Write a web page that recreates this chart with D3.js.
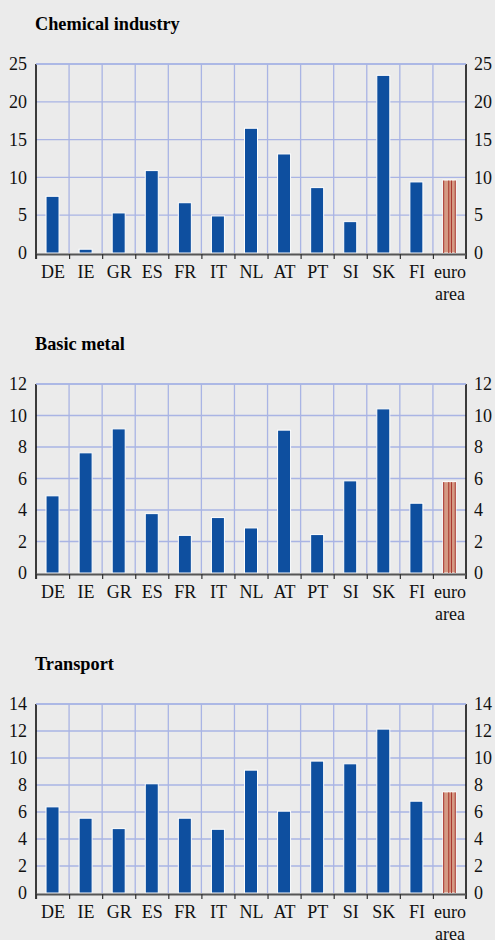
<!DOCTYPE html>
<html><head><meta charset="utf-8">
<script src="https://cdn.jsdelivr.net/npm/d3@7"></script>
<style>
html,body{margin:0;padding:0;background:#ebebeb;}
svg{display:block;}
svg text{font-family:"Liberation Serif","Times New Roman","DejaVu Serif",serif;}
</style></head>
<body>
<svg id="c" width="495" height="940"></svg>
<script>
const categories = ["DE","IE","GR","ES","FR","IT","NL","AT","PT","SI","SK","FI","euro area"];
const titles = ["Chemical industry","Basic metal","Transport"];
const chemical = [7.5,0.5,5.3,10.9,6.65,4.9,16.5,13.1,8.65,4.15,23.5,9.4,9.65];
const basicMetal = [4.9,7.63,9.15,3.77,2.39,3.52,2.86,9.07,2.44,5.85,10.42,4.43,5.8];
const transport = [6.38,5.54,4.77,8.09,5.54,4.72,9.1,6.06,9.77,9.57,12.14,6.8,7.49];
const chemTicks = [0,5,10,15,20,25];
const metalTicks = [0,2,4,6,8,10,12];
const transTicks = [0,2,4,6,8,10,12,14];

const panels = [
  {title: titles[0], values: chemical, ticks: chemTicks},
  {title: titles[1], values: basicMetal, ticks: metalTicks},
  {title: titles[2], values: transport, ticks: transTicks}
];

const svg = d3.select("#c");
const L = 36, R = 466, T = 64, B = 253;

panels.forEach((p, i) => {
  const g = svg.append("g").attr("transform", `translate(0,${i*320})`);
  const x = d3.scaleBand().domain(categories).range([L, R]).paddingInner(0).paddingOuter(0);
  const y = d3.scaleLinear().domain([0, d3.max(p.ticks)]).range([B, T]);
  const bw = x.bandwidth();

  g.append("text").attr("x", 35).attr("y", 29.5)
    .attr("font-weight", "bold").attr("font-size", 18.3).attr("fill", "#000").text(p.title);

  // gridlines
  const grid = "#a9b4e4";
  g.selectAll(".hg").data(p.ticks.filter(t => t > 0)).join("line")
    .attr("x1", L).attr("x2", R).attr("y1", d => y(d)).attr("y2", d => y(d))
    .attr("stroke", grid).attr("stroke-width", 1.3);
  g.selectAll(".vg").data(categories.slice(1)).join("line")
    .attr("x1", d => x(d)).attr("x2", d => x(d)).attr("y1", T).attr("y2", B)
    .attr("stroke", grid).attr("stroke-width", 1.3);

  // bars
  const bwBar = 13;
  p.values.forEach((v, k) => {
    const c = categories[k];
    const cx = x(c) + bw / 2;
    const x0 = cx - bwBar / 2;
    if (c === "euro area") {
      g.append("rect").attr("x", x0).attr("y", y(v)).attr("width", bwBar).attr("height", y(0) - y(v))
        .attr("fill", "#d49a84").attr("stroke", "#fff").attr("stroke-width", 1);
      [0.7, 5.8, 8.5, bwBar - 0.7].forEach(off => {
        g.append("line").attr("x1", x0 + off).attr("x2", x0 + off)
          .attr("y1", y(v) + 0.5).attr("y2", y(0)).attr("stroke", "#a8342c").attr("stroke-width", 1);
      });
    } else {
      g.append("rect").attr("x", x0).attr("y", y(v)).attr("width", bwBar).attr("height", y(0) - y(v))
        .attr("fill", "#0e4f9f").attr("stroke", "#fff").attr("stroke-width", 1);
    }
  });

  // left axis
  const yl = d3.axisLeft(y).tickValues(p.ticks).tickSize(0).tickPadding(9).tickFormat(d3.format("d"));
  const gl = g.append("g").attr("transform", `translate(${L},0)`).call(yl);
  gl.select(".domain").remove();
  gl.attr("font-family", null);
  gl.selectAll("text").attr("font-size", 18).attr("fill", "#111");
  g.append("line").attr("x1", L).attr("x2", L).attr("y1", T).attr("y2", B + 6).attr("stroke", "#000").attr("stroke-width", 1.5);

  // right axis
  const yr = d3.axisRight(y).tickValues(p.ticks).tickSize(0).tickPadding(8).tickFormat(d3.format("d"));
  const gr = g.append("g").attr("transform", `translate(${R},0)`).call(yr);
  gr.select(".domain").remove();
  gr.attr("font-family", null);
  gr.selectAll("text").attr("font-size", 18).attr("fill", "#111");
  g.append("line").attr("x1", R).attr("x2", R).attr("y1", T).attr("y2", B + 6).attr("stroke", "#000").attr("stroke-width", 1.5);

  // top border grid
  g.append("line").attr("x1", L).attr("x2", R).attr("y1", T).attr("y2", T).attr("stroke", grid).attr("stroke-width", 1.3);

  // bottom axis
  g.append("line").attr("x1", L).attr("x2", R).attr("y1", B + 1.5).attr("y2", B + 1.5).attr("stroke", "#555").attr("stroke-width", 2);
  g.selectAll(".bt").data(categories).join("line")
    .attr("x1", d => x(d) + 0.5).attr("x2", d => x(d) + 0.5).attr("y1", B + 1).attr("y2", B + 6)
    .attr("stroke", "#333").attr("stroke-width", 1.2);

  // category labels
  categories.forEach(c => {
    const parts = c.split(" ");
    const t = g.append("text").attr("x", x(c) + bw / 2 + 0.5).attr("y", 278).attr("text-anchor", "middle")
      .attr("font-size", 18).attr("fill", "#111");
    parts.forEach((s, j) => {
      t.append("tspan").attr("x", x(c) + bw / 2 + 0.5).attr("dy", j === 0 ? 0 : 22).text(s);
    });
  });
});
</script>
</body></html>
